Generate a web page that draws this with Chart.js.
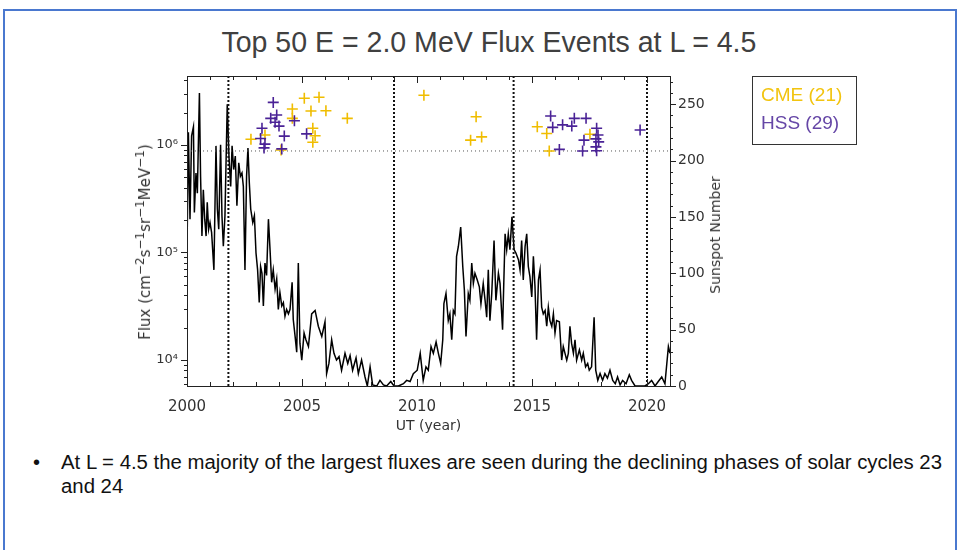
<!DOCTYPE html>
<html>
<head>
<meta charset="utf-8">
<script src="https://cdn.jsdelivr.net/npm/chart.js@4.4.0/dist/chart.umd.min.js"></script>
<style>
    body { margin: 0; width: 959px; height: 550px; overflow: hidden; position: relative; background: #fff;
           font-family: "Liberation Sans", Arial, sans-serif; }
    #frame { position: absolute; left: 3px; top: 9px; width: 950px; height: 600px; border: 2px solid #4a78cf; }
    #title { position: absolute; left: 0; width: 977px; top: 28px; text-align: center; font-size: 29px;
             line-height: 29px; color: #404040; white-space: nowrap; }
    #title span { display: inline-block; }
    #graph { position: absolute; left: 0; top: 0; }
    #legend { position: absolute; left: 752px; top: 76px; width: 105px; height: 69px; border: 1px solid #333; box-sizing: border-box; }
    .leg { position: absolute; left: 8px; font-size: 19px; line-height: 19px; white-space: nowrap; }
    .axTitle { position: absolute; transform: translate(-50%, -50%) rotate(-90deg);
               font-family: "DejaVu Sans", sans-serif; font-size: 14px; color: #333; white-space: nowrap; }
    .axTitle sup { font-size: 11px; vertical-align: 5px; line-height: 0; }
    #fluxTitle { left: 145px; top: 242px; font-size: 15px; }
    #fluxTitle sup { font-size: 12px; vertical-align: 6px; }
    #ssnTitle { left: 715px; top: 235px; }
    .bullet { position: absolute; left: 61px; font-size: 20px; line-height: 24px; color: #111; white-space: nowrap;
              transform-origin: 0 0; }
    #dot { position: absolute; left: 33px; top: 450px; font-size: 20px; line-height: 24px; color: #111; }
</style>
</head>
<body>
<div id="frame"></div>
<div id="title"><span>Top 50 E = 2.0 MeV Flux Events at L = 4.5</span></div>
<canvas id="graph" width="959" height="440"></canvas>
<div class="axTitle" id="fluxTitle">Flux (cm<sup>−2</sup>s<sup>−1</sup>sr<sup>−1</sup>MeV<sup>−1</sup>)</div>
<div class="axTitle" id="ssnTitle">Sunspot Number</div>
<div id="legend">
    <div class="leg" style="top:8px;color:#f2c40f">CME (21)</div>
    <div class="leg" style="top:36px;color:#6546a6">HSS (29)</div>
</div>
<div id="dot">•</div>
<div class="bullet" id="line1" style="top:450px">At L = 4.5 the majority of the largest fluxes are seen during the declining phases of solar cycles 23</div>
<div class="bullet" id="line2" style="top:474px">and 24</div>

<script>
// monthly-ish sunspot number
var ssnYear = [2000.01, 2000.06, 2000.13, 2000.2, 2000.28, 2000.32, 2000.39, 2000.45, 2000.54, 2000.59, 2000.65, 2000.71,
    2000.77, 2000.83, 2000.88, 2000.94, 2001.0, 2001.07, 2001.17, 2001.26, 2001.32, 2001.38, 2001.46, 2001.52,
    2001.58, 2001.65, 2001.75, 2001.83, 2001.9, 2001.96, 2002.03, 2002.1, 2002.17, 2002.25, 2002.32, 2002.39,
    2002.45, 2002.52, 2002.59, 2002.65, 2002.71, 2002.77, 2002.86, 2002.93, 2003.0, 2003.07, 2003.14, 2003.2,
    2003.26, 2003.32, 2003.39, 2003.46, 2003.54, 2003.61, 2003.68, 2003.75, 2003.83, 2003.9, 2003.97, 2004.04,
    2004.12, 2004.19, 2004.26, 2004.33, 2004.41, 2004.48, 2004.57, 2004.62, 2004.7, 2004.77, 2004.84, 2004.91,
    2004.99, 2005.09, 2005.17, 2005.28, 2005.42, 2005.57, 2005.71, 2005.86, 2006.0, 2006.07, 2006.17, 2006.29,
    2006.39, 2006.5, 2006.61, 2006.72, 2006.87, 2006.99, 2007.09, 2007.2, 2007.35, 2007.45, 2007.59, 2007.74,
    2007.84, 2007.96, 2008.07, 2008.25, 2008.39, 2008.54, 2008.68, 2008.86, 2009.0, 2009.19, 2009.41, 2009.55,
    2009.7, 2009.84, 2010.01, 2010.14, 2010.27, 2010.39, 2010.49, 2010.61, 2010.71, 2010.83, 2010.93, 2011.03,
    2011.12, 2011.17, 2011.26, 2011.36, 2011.43, 2011.51, 2011.58, 2011.65, 2011.72, 2011.8, 2011.9, 2011.99,
    2012.06, 2012.13, 2012.23, 2012.3, 2012.38, 2012.45, 2012.52, 2012.62, 2012.71, 2012.78, 2012.88, 2012.96,
    2013.03, 2013.1, 2013.17, 2013.25, 2013.35, 2013.43, 2013.54, 2013.61, 2013.72, 2013.83, 2013.9, 2013.97,
    2014.04, 2014.13, 2014.22, 2014.3, 2014.41, 2014.48, 2014.55, 2014.62, 2014.7, 2014.77, 2014.84, 2014.91,
    2014.99, 2015.06, 2015.13, 2015.2, 2015.28, 2015.35, 2015.42, 2015.49, 2015.57, 2015.64, 2015.71, 2015.78,
    2015.86, 2015.93, 2016.0, 2016.07, 2016.19, 2016.29, 2016.36, 2016.51, 2016.58, 2016.65, 2016.72, 2016.8,
    2016.87, 2016.94, 2017.06, 2017.16, 2017.23, 2017.33, 2017.42, 2017.49, 2017.59, 2017.7, 2017.77, 2017.86,
    2017.96, 2018.07, 2018.17, 2018.28, 2018.39, 2018.51, 2018.62, 2018.72, 2018.83, 2018.94, 2019.09, 2019.23,
    2019.33, 2019.48, 2019.7, 2019.91, 2020.06, 2020.2, 2020.35, 2020.49, 2020.64, 2020.78, 2020.93, 2021.0];
var ssnValue = [136, 225, 148, 222, 230, 154, 189, 171, 260, 186, 133, 174,
    148, 133, 163, 139, 145, 136, 103, 213, 157, 139, 214, 151,
    124, 151, 250, 201, 177, 213, 192, 204, 160, 198, 186, 189,
    177, 103, 186, 211, 180, 157, 145, 151, 118, 103, 74, 106,
    100, 71, 109, 98, 148, 121, 92, 103, 86, 95, 68, 83,
    71, 74, 62, 68, 64, 68, 92, 59, 44, 30, 109, 38,
    23, 47, 41, 35, 64, 67, 53, 44, 57, 11, 20, 41,
    29, 23, 26, 14, 29, 20, 27, 14, 25, 11, 23, 8,
    0, 17, 1, 0, 5, 1, 0, 4, 0, 0, 2, 5,
    4, 11, 14, 29, 5, 17, 14, 35, 29, 39, 29, 20,
    41, 73, 82, 58, 64, 41, 67, 64, 115, 124, 141, 106,
    85, 44, 82, 76, 109, 91, 100, 94, 88, 73, 91, 76,
    61, 103, 58, 82, 129, 76, 100, 91, 50, 135, 121, 135,
    121, 150, 121, 118, 112, 103, 129, 94, 124, 135, 106, 97,
    79, 115, 88, 41, 94, 103, 70, 64, 67, 53, 70, 58,
    53, 64, 47, 58, 57, 23, 35, 23, 29, 53, 38, 29,
    41, 23, 32, 23, 29, 17, 20, 14, 17, 61, 14, 5,
    11, 5, 11, 7, 14, 5, 2, 8, 1, 5, 2, 10,
    5, 0, 0, 0, 2, 5, 0, 4, 8, 2, 35, 29];

// top 50 flux events (year, flux)
var cmeYear = [2005.10, 2005.74, 2004.58, 2005.39, 2006.04, 2006.97, 2004.58, 2002.78, 2003.39, 2005.47, 2005.57,
    2005.47, 2004.09, 2010.30, 2012.57, 2012.33, 2012.81, 2015.23, 2015.64, 2017.52, 2015.75];
var cmeFlux = [2.72e6, 2.78e6, 2.16e6, 2.07e6, 2.08e6, 1.77e6, 1.77e6, 1.13e6, 1.24e6, 1.43e6, 1.22e6,
    1.06e6, 8.98e5, 2.90e6, 1.83e6, 1.11e6, 1.19e6, 1.48e6, 1.28e6, 1.26e6, 8.8e5];
var hssYear = [2003.75, 2003.90, 2003.64, 2003.83, 2004.00, 2004.67, 2003.26, 2003.20, 2003.39, 2003.35, 2004.23,
    2005.20, 2004.12, 2015.81, 2015.90, 2016.33, 2016.73, 2016.84, 2017.35, 2017.81, 2017.26, 2017.78,
    2017.90, 2017.78, 2017.81, 2016.19, 2017.20, 2019.70, 2017.87];
var hssFlux = [2.49e6, 1.90e6, 1.77e6, 1.63e6, 1.50e6, 1.68e6, 1.43e6, 1.15e6, 1.02e6, 9.4e5, 1.21e6,
    1.27e6, 9.2e5, 1.86e6, 1.46e6, 1.54e6, 1.50e6, 1.77e6, 1.77e6, 1.43e6, 1.11e6, 1.14e6,
    1.07e6, 9.6e5, 8.85e5, 9.1e5, 8.8e5, 1.38e6, 1.24e6];

var cycleYears = [2001.8, 2009.0, 2014.2, 2020.0];   // solar max / min markers
var fluxThreshold = 8.8e5;
var yearTicks = [2000, 2005, 2010, 2015, 2020];
var fluxTicks = [1e4, 1e5, 1e6];
var ssnTicks = [0, 50, 100, 150, 200, 250];

var fluxMin = Math.pow(10, 3.758), fluxMax = Math.pow(10, 6.642);
var sup = {4: '⁴', 5: '⁵', 6: '⁶'};

function xyPairs(xs, ys) {
    var out = [];
    for (var i = 0; i < xs.length; i++) out.push({x: xs[i], y: ys[i]});
    return out;
}

var datasets = [
    {type: 'scatter', data: xyPairs(hssYear, hssFlux), yAxisID: 'y', pointStyle: 'cross', pointRadius: 5.5,
        borderColor: '#4a2296', borderWidth: 1.6, order: 0},
    {type: 'scatter', data: xyPairs(cmeYear, cmeFlux), yAxisID: 'y', pointStyle: 'cross', pointRadius: 5.5,
        borderColor: '#f0bd00', borderWidth: 1.6, order: 1},
    {type: 'line', data: xyPairs(ssnYear, ssnValue), yAxisID: 'y2', borderColor: '#000', borderWidth: 1.5,
        pointRadius: 0, tension: 0, order: 3},
    {type: 'line', data: [{x: 2000, y: fluxThreshold}, {x: 2021, y: fluxThreshold}], yAxisID: 'y',
        borderColor: '#555', borderWidth: 1, borderDash: [1, 3], pointRadius: 0, order: 2}
];
for (var c = 0; c < cycleYears.length; c++) {
    datasets.push({type: 'line', data: [{x: cycleYears[c], y: fluxMin}, {x: cycleYears[c], y: fluxMax}], yAxisID: 'y',
        borderColor: '#111', borderWidth: 2, borderDash: [2, 2], pointRadius: 0, order: 2});
}

// box + tick marks like the IDL plot
var frameTicks = {
    id: 'frameTicks',
    afterDatasetsDraw: function (chart) {
        var ctx = chart.ctx, a = chart.chartArea;
        var sx = chart.scales.x, sy = chart.scales.y, sy2 = chart.scales.y2;
        ctx.save();
        ctx.strokeStyle = '#222';
        ctx.lineWidth = 1;
        ctx.strokeRect(Math.round(a.left) + 0.5, Math.round(a.top) + 0.5, Math.round(a.width), Math.round(a.height));
        ctx.beginPath();
        for (var yr = 2000; yr <= 2021; yr++) {
            var px = Math.round(sx.getPixelForValue(yr)) + 0.5;
            var len = yr % 5 === 0 ? 7 : 4;
            ctx.moveTo(px, a.bottom); ctx.lineTo(px, a.bottom - len);
            ctx.moveTo(px, a.top); ctx.lineTo(px, a.top + len);
        }
        for (var e = 3; e <= 6; e++) {
            for (var k = 1; k <= 9; k++) {
                var v = k * Math.pow(10, e);
                if (v < fluxMin || v > fluxMax) continue;
                var py = Math.round(sy.getPixelForValue(v)) + 0.5;
                ctx.moveTo(a.left, py); ctx.lineTo(a.left - (k === 1 ? 6 : 3), py);
            }
        }
        for (var s = 0; s <= 270; s += 10) {
            var py2 = Math.round(sy2.getPixelForValue(s)) + 0.5;
            ctx.moveTo(a.right, py2); ctx.lineTo(a.right + (s % 50 === 0 ? 6 : 3), py2);
        }
        ctx.stroke();
        ctx.restore();
    }
};

var axisFont = {family: 'DejaVu Sans', size: 14};
var noGrid = {display: false, drawTicks: false};

var chart = new Chart(document.getElementById('graph').getContext('2d'), {
    data: {datasets: datasets},
    plugins: [frameTicks],
    options: {
        responsive: false,
        animation: false,
        events: [],
        layout: {padding: {top: 76, left: 133, right: 229, bottom: 0}},
        plugins: {legend: {display: false}, tooltip: {enabled: false}},
        scales: {
            x: {
                type: 'linear', position: 'bottom', min: 2000, max: 2021,
                grid: noGrid, border: {display: false},
                afterBuildTicks: function (scale) { scale.ticks = yearTicks.map(function (v) { return {value: v}; }); },
                afterFit: function (scale) { scale.height = 54; },
                ticks: {color: '#333', font: {family: 'DejaVu Sans', size: 15}, padding: 12, maxRotation: 0,
                    callback: function (v) { return String(v); }},
                title: {display: true, text: 'UT (year)', color: '#333', font: axisFont, padding: {top: 0, bottom: 5}}
            },
            y: {
                type: 'logarithmic', position: 'left', min: fluxMin, max: fluxMax,
                grid: noGrid, border: {display: false},
                afterBuildTicks: function (scale) { scale.ticks = fluxTicks.map(function (v) { return {value: v}; }); },
                afterFit: function (scale) { scale.width = 54; },
                ticks: {color: '#333', font: {family: 'DejaVu Sans', size: 13}, padding: 9,
                    callback: function (v) { return '10' + sup[Math.round(Math.log10(v))]; }}
            },
            y2: {
                type: 'linear', position: 'right', min: 0, max: 275,
                grid: noGrid, border: {display: false},
                afterBuildTicks: function (scale) { scale.ticks = ssnTicks.map(function (v) { return {value: v}; }); },
                afterFit: function (scale) { scale.width = 60; },
                ticks: {color: '#333', font: axisFont, padding: 8}
            }
        }
    }
});

// squeeze slide text to the widths in the picture
function fitWidth(el, target, others) {
    var k = target / el.getBoundingClientRect().width;
    el.style.transform = 'scaleX(' + k + ')';
    (others || []).forEach(function (o) { o.style.transform = 'scaleX(' + k + ')'; });
}
var t = document.querySelector('#title span');
t.style.transformOrigin = '50% 50%';
fitWidth(t, 535);
fitWidth(document.getElementById('line1'), 881, [document.getElementById('line2')]);
</script>
</body>
</html>
